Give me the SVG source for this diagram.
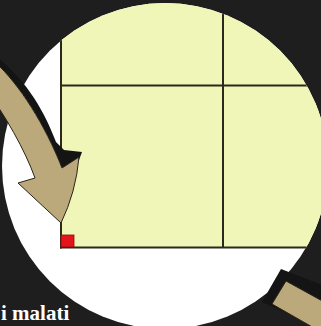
<svg xmlns="http://www.w3.org/2000/svg" width="321" height="326" viewBox="0 0 321 326">
  <style>
    .grid { stroke: #2a2a1c; stroke-width: 2; fill: none; }
    .tan { fill: #bca97b; stroke: #2a2418; stroke-width: 1; stroke-linejoin: miter; }
    .shadow { fill: #141414; }
    .label { font-family: "Liberation Serif", "Times New Roman", serif; font-weight: bold; font-size: 21px; fill: #ffffff; }
  </style>
  <defs>
    <clipPath id="circ">
      <circle cx="165" cy="166" r="163"/>
    </clipPath>
  </defs>
  <rect id="background" x="0" y="0" width="321" height="326" fill="#1e1e1e"/>
  <g id="plot">
    <circle cx="165" cy="166" r="163" fill="#ffffff"/>
    <g clip-path="url(#circ)">
      <rect x="61" y="0" width="270" height="247.5" fill="#f0f5b8"/>
      <line class="grid" x1="61" y1="0" x2="61" y2="248.5"/>
      <line class="grid" x1="61" y1="85.5" x2="330" y2="85.5"/>
      <line class="grid" x1="223" y1="0" x2="223" y2="248"/>
      <line class="grid" x1="60" y1="247.5" x2="330" y2="247.5"/>
    </g>
  </g>
  <g id="origin">
    <rect x="61" y="235" width="13" height="12" fill="#e4141a" stroke="#8a0a0a" stroke-width="0.8"/>
  </g>
  <g id="connectors">
    <g id="arrow-left">
      <path class="shadow" d="M -20,45 C 20,70 42,105 56,142 L 64,150 L 82,152 L 79,160 L 62,168 C 45,125 20,85 -5,62 Z"/>
      <path class="tan" d="M -5,62 C 20,85 45,125 62,168 L 79,157 Q 76,192 61,223 L 18,183 L 35,178 C 25,150 5,115 -15,88 Z"/>
    </g>
    <g id="arrow-right">
      <path class="shadow" d="M 281,269 L 335,290 L 335,335 L 262,302 Z"/>
      <path class="tan" d="M 286,281 L 335,308 L 335,340 L 272,304 Z"/>
    </g>
  </g>
  <g id="caption">
    <text class="label" x="1" y="320">i malati</text>
  </g>
</svg>
